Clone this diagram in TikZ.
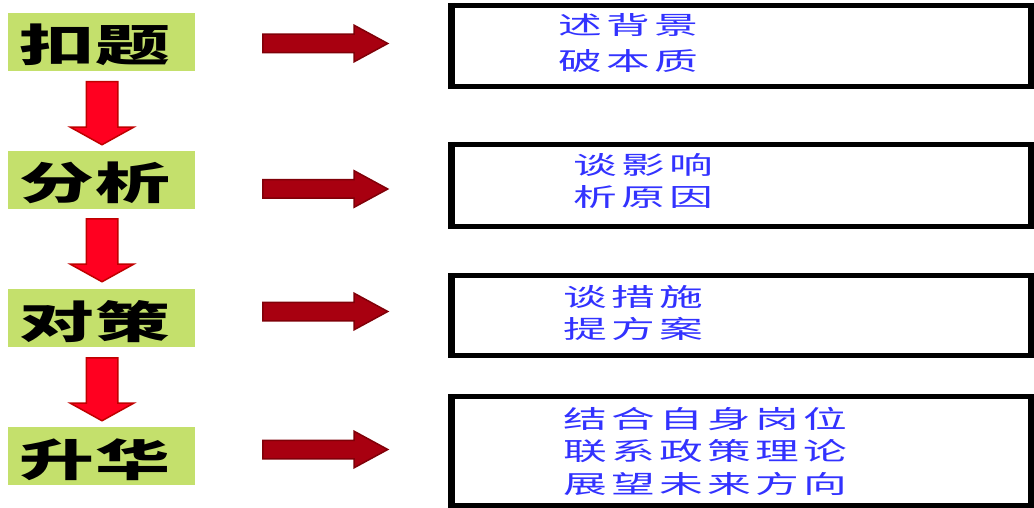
\documentclass[tikz,border=0pt]{standalone}
\usepackage{fontspec}
\usepackage{graphicx}
\usetikzlibrary{shapes.arrows}
\newfontfamily\cjkhead[LetterSpace=2]{Noto Sans CJK SC}
\newfontfamily\cjkbody[LetterSpace=10]{Noto Sans CJK SC}
\definecolor{boxgreen}{RGB}{196,224,108}
\definecolor{downred}{RGB}{255,0,32}
\definecolor{downedge}{RGB}{192,0,0}
\definecolor{rightred}{RGB}{168,0,16}
\definecolor{rightedge}{RGB}{128,0,8}
\definecolor{textblue}{RGB}{50,50,255}
\newcommand{\hsh}[1]{\scalebox{1.7}[1]{#1}}
\newcommand{\hsb}[1]{\scalebox{1.75}[1]{#1}}
\tikzset{
  stagebox/.style={fill=boxgreen, draw=none, minimum width=187pt, minimum height=58pt, inner sep=0pt},
  stagetext/.style={font=\fontsize{44}{50}\selectfont\cjkhead\bfseries, text=black, inner sep=0pt, anchor=base},
  contentbox/.style={draw=black, line width=5pt, fill=white, inner sep=0pt, outer sep=0pt},
  sideedge/.style={draw=black, line width=7pt, shorten <=-2.5pt, shorten >=-2.5pt},
  contenttext/.style={font=\fontsize{25}{33}\selectfont\cjkbody, text=textblue, inner sep=0pt, anchor=base west},
  downarrow/.style={single arrow, fill=downred, draw=downedge, line width=1.5pt, rotate=-90, anchor=tail,
    minimum height=63pt, inner xsep=0pt, inner ysep=15pt, single arrow head extend=16pt,
    single arrow tip angle=122, single arrow head indent=0pt},
  rightarrow/.style={single arrow, fill=rightred, draw=rightedge, line width=1.5pt, anchor=tail,
    minimum height=125pt, inner xsep=0pt, inner ysep=8.5pt, single arrow head extend=9pt,
    single arrow tip angle=57, single arrow head indent=0pt}
}
\begin{document}
\begin{tikzpicture}[x=1pt, y=-1pt]
\useasboundingbox (0,0) rectangle (1034,508);
% left stage boxes
\node[stagebox] (g1) at (101.5,42) {};
\node[stagebox] (g2) at (101.5,180) {};
\node[stagebox] (g3) at (101.5,318) {};
\node[stagebox] (g4) at (101.5,456) {};
\node[stagetext] (s1) at (95,62) {\hsh{扣题}};
\node[stagetext] (s2) at (95,200) {\hsh{分析}};
\node[stagetext] (s3) at (95,338) {\hsh{对策}};
\node[stagetext] (s4) at (95,476) {\hsh{升华}};
% down arrows
\node[downarrow] (d1) at (102,81) {};
\node[downarrow] (d2) at (102,218) {};
\node[downarrow] (d3) at (102,357) {};
% right arrows
\node[rightarrow] (a1) at (262,43.5) {};
\node[rightarrow] (a2) at (262,189) {};
\node[rightarrow] (a3) at (262,311.5) {};
\node[rightarrow] (a4) at (262,449.5) {};
% content boxes
\node[contentbox, minimum width=580pt, minimum height=81pt] (r1) at (741,46) {};
\node[contentbox, minimum width=580pt, minimum height=82pt] (r2) at (741,185.5) {};
\node[contentbox, minimum width=580pt, minimum height=80pt] (r3) at (741,315.5) {};
\node[contentbox, minimum width=580pt, minimum height=109pt] (r4) at (741,451) {};
\foreach \b in {r1,r2,r3,r4}{
  \draw[sideedge] (\b.north west) -- (\b.south west);
  \draw[sideedge] (\b.north east) -- (\b.south east);
}
% content texts
\node[contenttext] (t11) at (558,35) {\hsb{述背景}};
\node[contenttext] (t12) at (558,71) {\hsb{破本质}};
\node[contenttext] (t21) at (573,175) {\hsb{谈影响}};
\node[contenttext] (t22) at (573,206) {\hsb{析原因}};
\node[contenttext] (t31) at (563,306) {\hsb{谈措施}};
\node[contenttext] (t32) at (563,338) {\hsb{提方案}};
\node[contenttext] (t41) at (563,428) {\hsb{结合自身岗位}};
\node[contenttext] (t42) at (563,460) {\hsb{联系政策理论}};
\node[contenttext] (t43) at (563,493) {\hsb{展望未来方向}};
\end{tikzpicture}
\end{document}
